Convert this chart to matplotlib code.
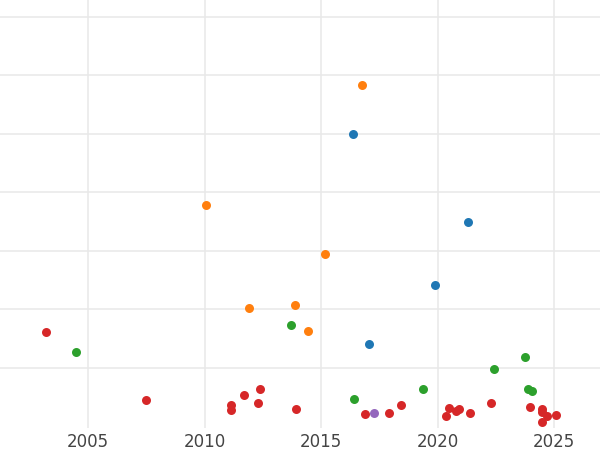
import matplotlib.pyplot as plt

# Points per series: year and value
orange_x = [2016.75, 2010.06, 2015.17, 2013.88, 2011.9, 2014.44]
orange_y = [5.84, 3.79, 2.95, 2.08, 2.03, 1.63]
blue_x = [2016.37, 2021.3, 2019.9, 2017.06]
blue_y = [5.0, 3.5, 2.42, 1.41]
green_x = [2004.48, 2013.7, 2022.4, 2023.75, 2019.38, 2016.4, 2023.9, 2024.05]
green_y = [1.27, 1.74, 0.98, 1.19, 0.64, 0.47, 0.64, 0.61]
red_x = [2003.2, 2007.5, 2011.14, 2011.14, 2011.7, 2012.38, 2012.3, 2013.93,
         2016.9, 2017.9, 2018.43, 2020.36, 2020.5, 2020.8, 2020.9, 2021.4,
         2022.3, 2023.97, 2024.5, 2024.5, 2024.7, 2025.1, 2024.5]
red_y = [1.62, 0.45, 0.37, 0.28, 0.54, 0.64, 0.40, 0.30,
         0.21, 0.23, 0.37, 0.18, 0.32, 0.26, 0.30, 0.23,
         0.40, 0.33, 0.30, 0.25, 0.18, 0.20, 0.08]
purple_x = [2017.27]
purple_y = [0.23]

fig = plt.figure(figsize=(6, 4.5), dpi=100)
ax = fig.add_axes([0, 0.05, 1, 0.95])

for xs, ys, c in [(red_x, red_y, '#d62728'), (green_x, green_y, '#2ca02c'),
                  (orange_x, orange_y, '#ff7f0e'), (blue_x, blue_y, '#1f77b4'),
                  (purple_x, purple_y, '#9467bd')]:
    ax.scatter(xs, ys, s=42, color=c, zorder=3, linewidths=0)

ax.set_xlim(2001.22, 2026.97)
ax.set_ylim(-0.017, 7.29)
ax.set_xticks([2005, 2010, 2015, 2020, 2025])
ax.set_yticks([1, 2, 3, 4, 5, 6, 7])
ax.set_yticklabels([])
ax.grid(True, color='#e8e8e8', linewidth=1.1)
ax.set_axisbelow(True)
for s in ax.spines.values():
    s.set_visible(False)
ax.tick_params(length=0, labelsize=12, labelcolor='#444444', pad=4)

fig.savefig('out.png', dpi=100)
